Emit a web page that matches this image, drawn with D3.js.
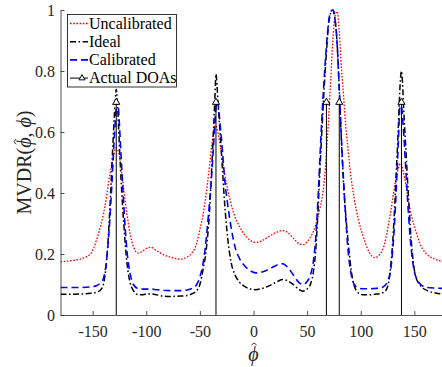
<!DOCTYPE html>
<html>
<head>
<meta charset="utf-8">
<script src="https://cdn.jsdelivr.net/npm/d3@7"></script>
<style>
  html, body { margin: 0; padding: 0; background: #fff; }
  svg { display: block; }
</style>
</head>
<body>
<div id="chart"></div>
<script>
// Scan angles (degrees) at which the MVDR spectra were evaluated
const phiGrid = [-180,-170,-160,-152,-146,-142,-140,-137,-135,-133,
  -131,-130,-129,-128,-127,-126,-125,-123,-121,-118,
  -115,-112,-108,-104,-100,-96,-90,-84,-76,-68,
  -62,-57,-53,-50,-47,-45,-43,-41,-39,-37,
  -36,-35,-34,-33,-31,-29,-27,-24,-21,-17,
  -13,-8,-3,2,7,12,17,22,27,32,
  37,42,46,50,53,56,58,60,62,64,
  66,68,70,72,74,76,78,80,82,84,
  86,88,91,94,98,103,108,113,118,122,
  125,128,130,132,133,134,135,136,137,138,
  139,140,142,144,147,151,156,162,170,180];

// Normalised MVDR spectrum, uncalibrated array
const uncalibrated = [0.175,0.178,0.185,0.2,0.25,0.3,0.33,0.39,0.44,0.48,
  0.515,0.53,0.543,0.548,0.545,0.535,0.52,0.47,0.41,0.33,
  0.265,0.225,0.203,0.208,0.218,0.222,0.21,0.198,0.188,0.183,
  0.19,0.205,0.235,0.28,0.33,0.375,0.43,0.49,0.555,0.605,
  0.62,0.62,0.612,0.595,0.555,0.51,0.465,0.41,0.365,0.32,
  0.29,0.262,0.245,0.238,0.242,0.252,0.263,0.272,0.277,0.27,
  0.252,0.235,0.23,0.24,0.255,0.275,0.295,0.32,0.35,0.385,
  0.44,0.53,0.64,0.77,0.9,0.98,0.995,0.93,0.81,0.72,
  0.62,0.55,0.45,0.38,0.31,0.25,0.205,0.188,0.2,0.23,
  0.28,0.34,0.385,0.43,0.45,0.465,0.48,0.493,0.497,0.493,
  0.48,0.465,0.43,0.385,0.33,0.28,0.228,0.198,0.182,0.172];

// Normalised MVDR spectrum, ideal (perfectly known) array
const ideal = [0.068,0.068,0.069,0.071,0.075,0.085,0.1,0.18,0.28,0.42,
  0.57,0.64,0.7,0.74,0.7,0.63,0.55,0.41,0.3,0.17,
  0.105,0.08,0.067,0.066,0.069,0.069,0.066,0.062,0.061,0.062,
  0.064,0.07,0.08,0.1,0.15,0.19,0.25,0.34,0.48,0.63,
  0.71,0.79,0.75,0.69,0.59,0.48,0.37,0.25,0.175,0.13,
  0.107,0.093,0.085,0.083,0.086,0.092,0.1,0.109,0.116,0.112,
  0.1,0.085,0.078,0.085,0.1,0.145,0.21,0.33,0.48,0.62,
  0.75,0.86,0.95,0.99,1.0,0.97,0.89,0.74,0.57,0.43,
  0.33,0.25,0.15,0.095,0.072,0.066,0.066,0.068,0.07,0.076,
  0.092,0.16,0.25,0.38,0.46,0.53,0.61,0.7,0.77,0.8,
  0.76,0.68,0.55,0.42,0.25,0.13,0.095,0.08,0.072,0.067];

// Normalised MVDR spectrum, calibrated array
const calibrated = [0.09,0.09,0.09,0.092,0.097,0.108,0.12,0.18,0.26,0.37,
  0.5,0.57,0.63,0.68,0.7,0.68,0.62,0.49,0.36,0.21,
  0.135,0.1,0.087,0.085,0.085,0.085,0.083,0.081,0.08,0.08,
  0.082,0.088,0.1,0.125,0.17,0.22,0.29,0.37,0.46,0.57,
  0.63,0.68,0.7,0.69,0.62,0.54,0.45,0.36,0.29,0.22,
  0.185,0.16,0.145,0.138,0.14,0.146,0.155,0.164,0.168,0.156,
  0.132,0.108,0.1,0.11,0.13,0.18,0.25,0.37,0.52,0.66,
  0.78,0.88,0.96,0.995,1.0,0.97,0.89,0.74,0.58,0.44,
  0.32,0.22,0.135,0.1,0.088,0.086,0.086,0.087,0.088,0.095,
  0.11,0.15,0.22,0.33,0.4,0.48,0.56,0.65,0.705,0.69,
  0.65,0.6,0.48,0.36,0.22,0.13,0.1,0.09,0.088,0.087];

// True directions of arrival and the stem height used to mark them
const actualDOAs = [-128, -35, 68, 80, 138];
const doaStemHeight = 0.7;

const xTicks = [-150, -100, -50, 0, 50, 100, 150];
const xTickLabels = ["-150", "-100", "-50", "0", "50", "100", "150"];
const yTicks = [0, 0.2, 0.4, 0.6, 0.8, 1];
const yTickLabels = ["0", "0.2", "0.4", "0.6", "0.8", "1"];

const legendLabels = ["Uncalibrated", "Ideal", "Calibrated", "Actual DOAs"];

const W = 442, H = 367;
const axisColor = "#262626";
const serif = "'Liberation Serif', 'Times New Roman', serif";
const PHI = "\u03D5";

const svg = d3.select("#chart").append("svg")
  .attr("width", W).attr("height", H)
  .attr("viewBox", `0 0 ${W} ${H}`);

const x = d3.scaleLinear().domain([-180, 180]).range([60.5, 446.5]);
const y = d3.scaleLinear().domain([0, 1]).range([315, 10]);

svg.append("defs").append("clipPath").attr("id", "plotClip")
  .append("rect")
  .attr("x", x(-180)).attr("y", y(1) - 2)
  .attr("width", x(180) - x(-180)).attr("height", y(0) - y(1) + 2);

const plot = svg.append("g").attr("clip-path", "url(#plotClip)");

const line = d3.line()
  .x(d => x(d[0])).y(d => y(d[1]))
  .curve(d3.curveMonotoneX);

const series = [
  { values: uncalibrated, color: "#ff0000", width: 1.3, dash: "1.6,1.6" },
  { values: ideal,        color: "#000000", width: 1.5, dash: "6,2.5,1.6,2.5" },
  { values: calibrated,   color: "#0000ff", width: 1.6, dash: "7,4" }
];

series.forEach(s => {
  plot.append("path")
    .datum(phiGrid.map((p, i) => [p, s.values[i]]))
    .attr("fill", "none")
    .attr("stroke", s.color)
    .attr("stroke-width", s.width)
    .attr("stroke-dasharray", s.dash)
    .attr("d", line);
});

// DOA stems with open triangle markers
const triangle = d3.symbol().type(d3.symbolTriangle).size(22);
actualDOAs.forEach(a => {
  plot.append("line")
    .attr("x1", x(a)).attr("x2", x(a))
    .attr("y1", y(0)).attr("y2", y(doaStemHeight))
    .attr("stroke", "#000").attr("stroke-width", 1);
  plot.append("path")
    .attr("d", triangle)
    .attr("transform", `translate(${x(a)},${y(doaStemHeight) + 0.8})`)
    .attr("fill", "#fff").attr("stroke", "#000").attr("stroke-width", 1);
});

// Axes (ticks pointing inward)
const yAxis = d3.axisLeft(y)
  .tickValues(yTicks)
  .tickFormat((d, i) => yTickLabels[i])
  .tickSize(-4).tickSizeOuter(0).tickPadding(5.5);
const xAxis = d3.axisBottom(x)
  .tickValues(xTicks)
  .tickFormat((d, i) => xTickLabels[i])
  .tickSize(-4).tickSizeOuter(0).tickPadding(10.5);

const gy = svg.append("g").attr("transform", `translate(${x(-180)},0)`).call(yAxis);
const gx = svg.append("g").attr("transform", `translate(0,${y(0)})`).call(xAxis);

[gx, gy].forEach(g => {
  g.attr("font-family", null).attr("font-size", null);
  g.select(".domain").attr("stroke", axisColor).attr("stroke-width", 0.8);
  g.selectAll(".tick line").attr("stroke", axisColor).attr("stroke-width", 0.8);
  g.selectAll(".tick text")
    .attr("fill", axisColor)
    .style("font-family", serif)
    .style("font-size", "16px");
});

// Small circumflex accent drawn as a path
function hat(parent, cx, cy) {
  parent.append("path")
    .attr("d", `M${cx - 2.6},${cy + 2} L${cx},${cy} L${cx + 2.6},${cy + 2}`)
    .attr("fill", "none").attr("stroke", axisColor).attr("stroke-width", 0.9);
}

// x-axis title: phi-hat
const xTitle = svg.append("text")
  .attr("x", x(0)).attr("y", 361)
  .attr("text-anchor", "middle")
  .style("font-family", serif).style("font-size", "20px")
  .style("font-style", "italic")
  .attr("fill", axisColor)
  .text(PHI);
hat(svg, x(0) + 0.5, 343);

// y-axis title: MVDR(phi-hat, phi)
const yTitleG = svg.append("g")
  .attr("transform", `translate(31,${(y(0) + y(1)) / 2}) rotate(-90)`);
const yTitle = yTitleG.append("text")
  .attr("x", 0).attr("y", 0)
  .attr("text-anchor", "start")
  .style("font-family", serif).style("font-size", "20px")
  .attr("fill", axisColor);
const tPre = yTitle.append("tspan").text("MVDR(");
const tPhiHat = yTitle.append("tspan").style("font-style", "italic").text(PHI);
yTitle.append("tspan").text(", ");
yTitle.append("tspan").style("font-style", "italic").text(PHI);
yTitle.append("tspan").text(")");
const totalLen = yTitle.node().getComputedTextLength();
const startX = -totalLen / 2;
yTitle.attr("x", startX);
const preLen = tPre.node().getComputedTextLength();
const phiLen = tPhiHat.node().getComputedTextLength();
hat(yTitleG, startX + preLen + phiLen / 2 + 1, -17);

// Legend
const legend = svg.append("g");
legend.append("rect")
  .attr("x", 67.5).attr("y", 14.5).attr("width", 109).attr("height", 72.5)
  .attr("fill", "#fff").attr("stroke", "#000").attr("stroke-width", 0.8);

const legendStyles = [
  { color: "#ff0000", width: 1.3, dash: "1.6,1.6" },
  { color: "#000000", width: 1.5, dash: "6,2.5,1.6,2.5" },
  { color: "#0000ff", width: 1.6, dash: "7,4" },
  { color: "#000000", width: 1, dash: null, marker: true }
];

legendLabels.forEach((lab, i) => {
  const base = 28.5 + i * 18.2;
  const ly = base - 5;
  const st = legendStyles[i];
  legend.append("line")
    .attr("x1", 70).attr("x2", 88)
    .attr("y1", ly).attr("y2", ly)
    .attr("stroke", st.color).attr("stroke-width", st.width)
    .attr("stroke-dasharray", st.dash);
  if (st.marker) {
    legend.append("path")
      .attr("d", d3.symbol().type(d3.symbolTriangle).size(16))
      .attr("transform", `translate(82,${ly})`)
      .attr("fill", "#fff").attr("stroke", "#000").attr("stroke-width", 1);
  }
  legend.append("text")
    .attr("x", 89).attr("y", base)
    .style("font-family", serif).style("font-size", "16px")
    .attr("fill", "#000")
    .text(lab);
});
</script>
</body>
</html>
